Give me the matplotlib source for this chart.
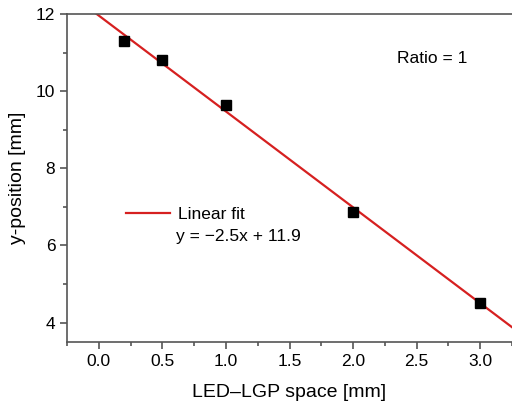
import matplotlib
matplotlib.use("Agg")
import matplotlib.pyplot as plt
import numpy as np

plt.rcParams["font.family"] = ["Liberation Sans", "DejaVu Sans"]

# LED-LGP space vs y-position
space_mm = [0.2, 0.5, 1.0, 2.0, 3.0]
ypos_mm = [11.3, 10.8, 9.65, 6.87, 4.52]

fit = np.polyfit(space_mm, ypos_mm, 1)
xfit = np.linspace(-0.25, 3.3, 50)

fig = plt.figure(figsize=(5.12, 4.11), dpi=100)
ax = fig.add_axes([0.131, 0.168, 0.869, 0.798])

ax.plot(xfit, np.polyval(fit, xfit), color="#d62020", lw=1.6, label="Linear fit")
ax.plot(space_mm, ypos_mm, "s", color="black", ms=6.5, zorder=3)

ax.set_xlim(-0.25, 3.23)
ax.set_ylim(3.5, 12)
ax.set_xticks([0.0, 0.5, 1.0, 1.5, 2.0, 2.5, 3.0])
ax.set_xticks(np.arange(-0.25, 3.3, 0.5), minor=True)
ax.set_yticks([4, 6, 8, 10, 12])
ax.set_yticks([5, 7, 9, 11], minor=True)
ax.xaxis.set_major_formatter(matplotlib.ticker.FormatStrFormatter("%.1f"))

for s in ["left", "bottom", "top"]:
    ax.spines[s].set_color("#555555")
    ax.spines[s].set_linewidth(1.2)
ax.spines["right"].set_visible(False)
ax.tick_params(which="both", direction="out", color="#555555", width=1.2,
               labelsize=12.5, top=False, right=False)
ax.tick_params(which="major", length=5)
ax.tick_params(which="minor", length=3)

ax.set_xlabel("LED\u2013LGP space [mm]", fontsize=14, labelpad=11)
ax.set_ylabel("y-position [mm]", fontsize=14, labelpad=7)

ax.legend(loc="center left", bbox_to_anchor=(0.098, 0.39), frameon=False,
          fontsize=12.5, handlelength=2.5, handletextpad=0.5)
ax.text(0.245, 0.323, "y = \u22122.5x + 11.9", transform=ax.transAxes,
        fontsize=12.5, va="center", ha="left")
ax.text(0.742, 0.863, "Ratio = 1", transform=ax.transAxes,
        fontsize=12.5, va="center", ha="left")

fig.savefig("out.png", dpi=100)
